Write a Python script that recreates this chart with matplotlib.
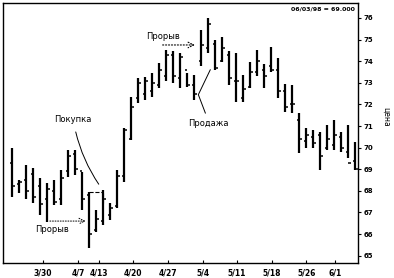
import matplotlib.pyplot as plt

# bar data, one bar per trading day
highs = [70.0, 68.5, 69.2, 69.05, 68.6, 68.35, 68.5, 68.95, 69.9, 69.9,
         68.85, 67.95, 67.1, 68.05, 67.45, 68.95, 70.9, 72.35, 73.2, 73.25,
         73.45, 73.9, 74.5, 74.45, 74.4, 73.45, 73.35, 75.45, 76.0, 75.0,
         75.1, 74.45, 74.4, 73.35, 73.95, 74.5, 73.85, 74.65, 74.15, 72.95,
         72.9, 71.6, 70.9, 70.8, 70.7, 71.05, 71.3, 70.7, 71.05, 70.25]
lows = [67.7, 67.9, 67.6, 67.45, 66.9, 66.55, 67.35, 67.35, 68.65, 68.75,
        67.1, 65.35, 66.1, 66.4, 66.65, 67.2, 68.4, 70.35, 72.05, 72.2,
        72.35, 72.75, 73.1, 73.0, 72.75, 72.8, 72.2, 73.8, 74.4, 73.6,
        73.95, 72.9, 72.1, 72.1, 72.75, 73.3, 72.75, 73.5, 72.3, 71.65,
        71.6, 69.75, 70.0, 70.0, 68.95, 69.9, 69.9, 69.8, 69.5, 68.95]
opens = [69.3, 68.3, 68.5, 68.8, 68.2, 67.6, 68.0, 67.6, 68.9, 69.7,
         68.9, 67.8, 66.2, 66.6, 66.9, 67.3, 68.7, 70.4, 72.3, 72.5,
         72.6, 72.9, 73.3, 74.3, 73.2, 73.6, 72.9, 74.0, 74.6, 74.8,
         74.0, 74.3, 73.1, 72.3, 72.8, 73.5, 73.6, 73.8, 73.6, 72.6,
         72.0, 71.3, 70.3, 70.5, 70.6, 70.0, 70.1, 70.5, 69.8, 69.4]
closes = [68.2, 68.4, 68.0, 67.7, 67.4, 68.1, 67.5, 68.6, 69.6, 69.0,
          67.6, 66.0, 66.7, 67.6, 67.2, 68.7, 70.8, 71.9, 73.0, 73.1,
          73.0, 73.6, 74.3, 73.3, 74.2, 72.9, 72.5, 74.75, 75.7, 73.7,
          74.6, 73.2, 73.1, 72.7, 73.5, 74.0, 73.3, 73.6, 72.6, 71.9,
          72.0, 70.4, 70.6, 70.2, 69.6, 70.4, 70.6, 70.0, 69.3, 69.0]

date_labels = ['3/30', '4/7', '4/13', '4/20', '4/27', '5/4', '5/11', '5/18', '5/26', '6/1']
date_idx = [4.4, 9.4, 12.4, 17.3, 22.3, 27.3, 32.1, 37.1, 42.0, 46.1]
price_ticks = [65, 66, 67, 68, 69, 70, 71, 72, 73, 74, 75, 76]

fig = plt.figure(figsize=(3.94, 2.78), dpi=100)
ax = fig.add_axes([0.0076, 0.054, 0.901, 0.935])

x = list(range(len(highs)))
ax.vlines(x, lows, highs, color='black', linewidth=1.6)
ax.hlines(opens, [i - 0.35 for i in x], x, color='black', linewidth=1.1)
ax.hlines(closes, x, [i + 0.35 for i in x], color='black', linewidth=1.1)

ax.set_xlim(-1.3, 49.4)
ax.set_ylim(64.66, 76.69)

ax.yaxis.tick_right()
ax.set_yticks(price_ticks)
ax.set_yticklabels([str(p) for p in price_ticks], fontsize=5, fontweight='bold')
ax.tick_params(axis='y', direction='out', length=2, width=0.8, pad=2)
ax.set_xticks(date_idx)
ax.set_xticklabels(date_labels, fontsize=5.5, fontweight='bold')
ax.tick_params(axis='x', direction='in', length=2.5, width=0.8, pad=4)
for s in ax.spines.values():
    s.set_linewidth(1.0)

# breakout at the top
ax.annotate('', xy=(26.5, 74.75), xytext=(21.1, 74.75),
            arrowprops=dict(arrowstyle='->', color='black', lw=0.8, linestyle=':'))
ax.text(21.6, 75.15, 'Прорыв', fontsize=6, ha='center', va='center')

# buy signal
ax.text(8.7, 71.3, 'Покупка', fontsize=6, ha='center', va='center')
ax.annotate('', xy=(12.6, 68.2), xytext=(9.0, 70.85),
            arrowprops=dict(arrowstyle='-', color='black', lw=0.7,
                            connectionstyle='arc3,rad=0.1'))
ax.hlines(67.95, 11.0, 13.0, color='black', linewidth=0.8, linestyles='--')
ax.vlines(13.0, 67.45, 67.95, color='black', linewidth=0.8, linestyles='--')

# breakout at the bottom
ax.annotate('', xy=(10.9, 66.6), xytext=(5.0, 66.6),
            arrowprops=dict(arrowstyle='->', color='black', lw=0.7, linestyle=':'))
ax.text(5.7, 66.2, 'Прорыв', fontsize=6, ha='center', va='center')

# sell signal
ax.plot([28.3, 26.6, 27.6], [73.6, 72.45, 71.6], color='black', linewidth=0.7)
ax.text(28.0, 71.1, 'Продажа', fontsize=6, ha='center', va='center')

ax.text(0.99, 0.985, '06/03/98 = 69.000', transform=ax.transAxes,
        fontsize=4.5, fontweight='bold', ha='right', va='top')
fig.text(0.98, 0.58, 'цена', fontsize=5.5, rotation=270, ha='center', va='center')

fig.savefig('out.png', dpi=100)
